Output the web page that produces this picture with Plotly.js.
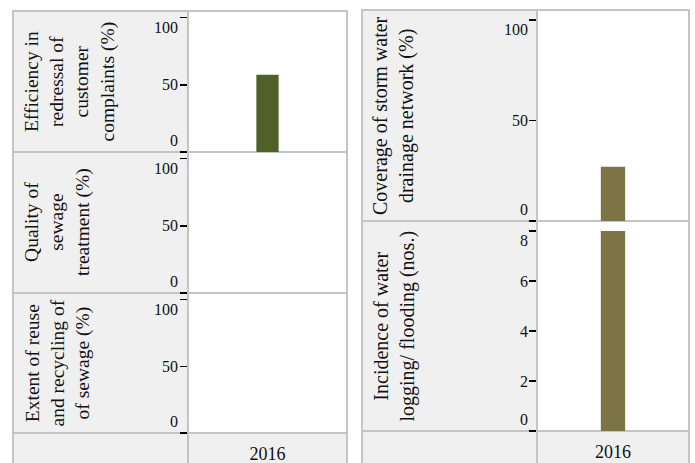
<!DOCTYPE html>
<html>
<head>
<meta charset="utf-8">
<script src="https://cdn.plot.ly/plotly-3.0.1.min.js"></script>
<style>html,body{margin:0;padding:0;background:#fff;}#chart{width:695px;height:463px;}</style>
</head>
<body>
<div id="chart"></div>
<script>
// ---- data ----
const years = ['2016'];
const complaintsRedressal = [57.5];   // %
const sewageQuality = [null];         // %
const sewageReuse = [null];           // %
const stormDrainCoverage = [27];      // %
const waterLogging = [8];             // nos.

const leftLabels = [
  'Efficiency in<br>redressal of<br>customer<br>complaints (%)',
  'Quality of<br>sewage<br>treatment (%)',
  'Extent of reuse<br>and recycling of<br>of sewage (%)'
];
const rightLabels = [
  'Coverage of storm water<br>drainage network (%)',
  'Incidence of water<br>logging/ flooding (nos.)'
];
const pctTicks = [0, 50, 100];
const nosTicks = [0, 2, 4, 6, 8];

// ---- layout helpers ----
const W = 695, H = 463;
const px = x => x / W;
const py = y => 1 - y / H;

const FONT = 'Liberation Serif, Times New Roman, serif';
const GREEN = '#4f6128';
const OLIVE = '#7c7347';
const BORDER = '#c4c4c4';
const CELL = '#f0f0f0';

const L = {x0: 13, xs: 188, x1: 347, rows: [11, 152, 293, 433], bottom: 480};
const R = {x0: 362, xs: 537, x1: 689, rows: [10, 221, 431], bottom: 480};

const shapes = [];
function rect(x0, y0, x1, y1, fill) {
  shapes.push({type: 'rect', xref: 'paper', yref: 'paper', layer: 'below',
    x0: px(x0), x1: px(x1), y0: py(y1), y1: py(y0),
    fillcolor: fill, line: {color: BORDER, width: 2}});
}
// left panel cells
for (let i = 0; i < 3; i++) {
  rect(L.x0, L.rows[i], L.xs, L.rows[i + 1], CELL);
  rect(L.xs, L.rows[i], L.x1, L.rows[i + 1], '#ffffff');
}
rect(L.x0, L.rows[3], L.xs, L.bottom, CELL);
rect(L.xs, L.rows[3], L.x1, L.bottom, CELL);
// right panel cells
for (let i = 0; i < 2; i++) {
  rect(R.x0, R.rows[i], R.xs, R.rows[i + 1], CELL);
  rect(R.xs, R.rows[i], R.x1, R.rows[i + 1], '#ffffff');
}
rect(R.x0, R.rows[2], R.xs, R.bottom, CELL);
rect(R.xs, R.rows[2], R.x1, R.bottom, CELL);

const annotations = [];
leftLabels.forEach((t, i) => {
  annotations.push({text: t, xref: 'paper', yref: 'paper', textangle: -90,
    x: px(19), xanchor: 'left', y: py((L.rows[i] + L.rows[i + 1]) / 2), yanchor: 'middle',
    align: 'center', showarrow: false, font: {family: FONT, size: 19.5, color: '#111'}});
});
rightLabels.forEach((t, i) => {
  annotations.push({text: t, xref: 'paper', yref: 'paper', textangle: -90,
    x: px(367), xanchor: 'left', y: py((R.rows[i] + R.rows[i + 1]) / 2), yanchor: 'middle',
    align: 'center', showarrow: false, font: {family: FONT, size: 20, color: '#111'}});
});

// flush-aligned tick labels (first label sits above its tick, last below)
function tickLabels(ticks, yref, xEdge) {
  ticks.forEach((v, i) => {
    const first = i === 0, last = i === ticks.length - 1;
    annotations.push({text: String(v), xref: 'paper', yref: yref, x: px(xEdge), xanchor: 'right',
      y: v, yanchor: first ? 'bottom' : (last ? 'top' : 'middle'), yshift: first ? 2 : 0,
      showarrow: false, borderpad: 0, font: {family: FONT, size: 16, color: '#111'}});
  });
}
tickLabels(pctTicks, 'y', 179);
tickLabels(pctTicks, 'y2', 179);
tickLabels(pctTicks, 'y3', 179);
tickLabels(pctTicks, 'y4', 529);
tickLabels(nosTicks, 'y5', 529);

function yax(domTop, domBot, anchor, range, ticks) {
  return {domain: [py(domBot), py(domTop)], anchor: anchor, range: range,
    tickvals: ticks, ticks: 'outside', ticklen: 7, tickwidth: 1.5, showticklabels: false,
    tickcolor: '#000', showgrid: false, zeroline: false, showline: false, fixedrange: true};
}
function xax(x0, x1, anchor, showLabels) {
  return {domain: [px(x0), px(x1)], anchor: anchor, type: 'category', range: [-0.5, 0.5],
    showgrid: false, zeroline: false, showline: false, ticks: '', fixedrange: true,
    showticklabels: showLabels, ticklabelstandoff: 8,
    tickfont: {family: FONT, size: 18, color: '#111'}};
}

const layout = {
  width: W, height: H, margin: {l: 0, r: 0, t: 0, b: 0},
  paper_bgcolor: '#ffffff', plot_bgcolor: 'rgba(0,0,0,0)', showlegend: false,
  font: {family: FONT},
  xaxis: xax(L.xs, L.x1, 'y3', true),
  xaxis2: xax(R.xs, R.x1, 'y5', true),
  yaxis: yax(L.rows[0], L.rows[1], 'x', [0, 105], pctTicks),
  yaxis2: yax(L.rows[1], L.rows[2], 'x', [0, 105], pctTicks),
  yaxis3: yax(L.rows[2], L.rows[3], 'x', [0, 105], pctTicks),
  yaxis4: yax(R.rows[0], R.rows[1], 'x2', [0, 105], pctTicks),
  yaxis5: yax(R.rows[1], R.rows[2], 'x2', [0, 8.4], nosTicks),
  shapes: shapes,
  annotations: annotations
};

function bar(y, xa, ya, color, w) {
  return {type: 'bar', x: years, y: y, xaxis: xa, yaxis: ya, width: w,
    marker: {color: color}, hoverinfo: 'skip'};
}
const data = [
  bar(complaintsRedressal, 'x', 'y', GREEN, 0.14),
  bar(sewageQuality, 'x', 'y2', GREEN, 0.14),
  bar(sewageReuse, 'x', 'y3', GREEN, 0.14),
  bar(stormDrainCoverage, 'x2', 'y4', OLIVE, 0.16),
  bar(waterLogging, 'x2', 'y5', OLIVE, 0.16)
];

Plotly.newPlot('chart', data, layout, {displayModeBar: false, staticPlot: true});
</script>
</body>
</html>
